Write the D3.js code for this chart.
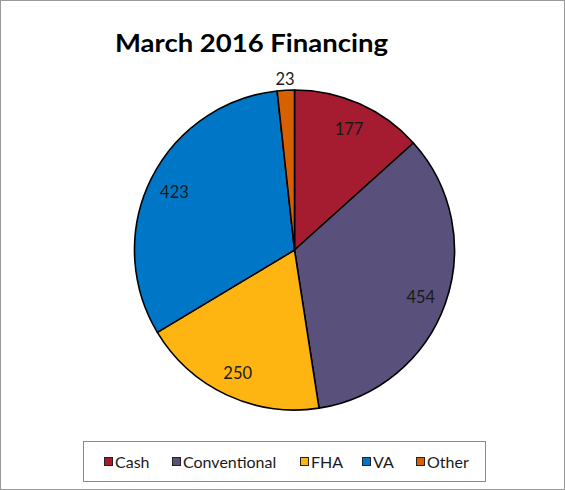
<!DOCTYPE html>
<html><head><meta charset="utf-8">
<script src="https://cdn.jsdelivr.net/npm/d3@7"></script>
<style>html,body{margin:0;padding:0;background:#fff}svg{display:block}</style>
</head><body>
<svg id="c" width="565" height="490"></svg>
<script>
const categories = ["Cash", "Conventional", "FHA", "VA", "Other"];
const values = [177, 454, 250, 423, 23];
const colors = ["#A51B30", "#59517B", "#FEB511", "#0077C6", "#D66002"];
const title = "March 2016 Financing";

const svg = d3.select("#c");
const W = 565, H = 490;
svg.append("rect").attr("x",0.5).attr("y",0.5).attr("width",W-1).attr("height",H-1)
  .attr("fill","#fff").attr("stroke","#9a9a9a").attr("stroke-width",1);

svg.append("text").attr("x",115).attr("y",52)
  .attr("font-family","Lato, 'Open Sans', sans-serif").attr("font-weight","bold")
  .attr("font-size",24).attr("fill","#000").attr("textLength",273).attr("lengthAdjust","spacingAndGlyphs")
  .text(title);

const cx = 294.5, cy = 250, R = 160;
const data = categories.map((c,i)=>({cat:c, value:values[i], color:colors[i]}));
const pie = d3.pie().value(d=>d.value).sort(null).startAngle(0).endAngle(2*Math.PI);
const arcs = pie(data);
const arc = d3.arc().innerRadius(0).outerRadius(R);
const g = svg.append("g").attr("transform",`translate(${cx},${cy})`);
g.selectAll("path").data(arcs).join("path")
  .attr("d",arc).attr("fill",d=>d.data.color)
  .attr("stroke","#000").attr("stroke-width",1.6).attr("stroke-linejoin","round");

const inLab = d3.arc().innerRadius(134).outerRadius(134);
const outLab = d3.arc().innerRadius(173).outerRadius(173);
g.selectAll("text.lab").data(arcs).join("text").attr("class","lab")
  .attr("transform",d=>{
    const small = (d.endAngle-d.startAngle) < 0.2;
    const p = (small?outLab:inLab).centroid(d);
    return `translate(${p[0]},${p[1]+2})`;
  })
  .attr("text-anchor","middle").attr("dy","0.35em")
  .attr("font-family","Lato, 'Open Sans', sans-serif").attr("font-size",16.5)
  .attr("fill","#1a1a1a")
  .text(d=>d.data.value);

// legend
svg.append("rect").attr("x",83.5).attr("y",441.5).attr("width",402).attr("height",40)
  .attr("fill","#fff").attr("stroke","#8a8a8a").attr("stroke-width",1);
const legX = [104, 172, 300, 362, 416];
const lg = svg.append("g");
const items = lg.selectAll("g").data(data).join("g")
  .attr("transform",(d,i)=>`translate(${legX[i]},462)`);
items.append("rect").attr("x",0.5).attr("y",-4.5).attr("width",8).attr("height",8)
  .attr("fill",d=>d.color).attr("stroke","#222").attr("stroke-width",1);
items.append("text").attr("x",11).attr("y",0).attr("dy","0.35em")
  .attr("font-family","Lato, 'Open Sans', sans-serif").attr("font-size",16)
  .attr("fill","#1a1a1a").text(d=>d.cat);
</script>
</body></html>
